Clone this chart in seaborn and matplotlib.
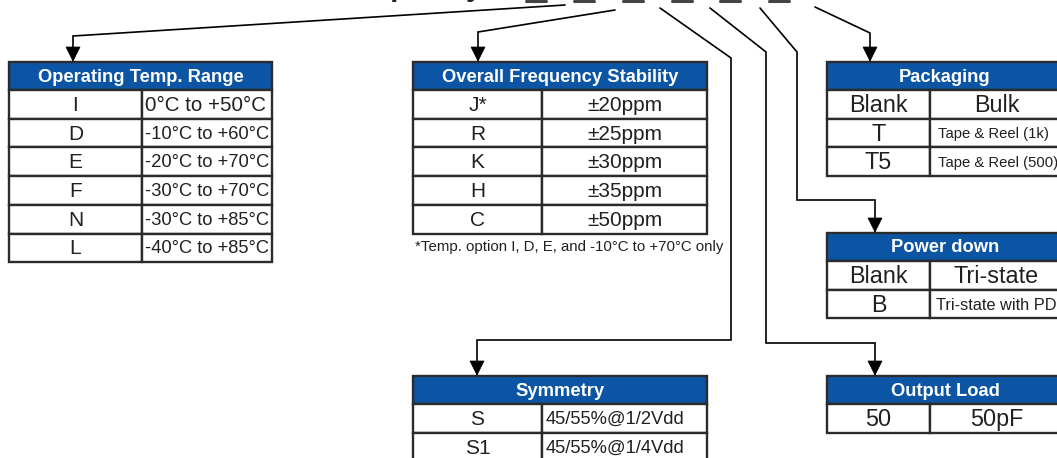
import matplotlib.pyplot as plt
import matplotlib.patches as patches
import seaborn as sns

# table contents
temp_codes = ['I', 'D', 'E', 'F', 'N', 'L']
temp_ranges = ['0°C to +50°C', '-10°C to +60°C', '-20°C to +70°C',
               '-30°C to +70°C', '-30°C to +85°C', '-40°C to +85°C']
stab_codes = ['J*', 'R', 'K', 'H', 'C']
stab_values = ['±20ppm', '±25ppm', '±30ppm', '±35ppm', '±50ppm']
pack_codes = ['Blank', 'T', 'T5']
pack_values = ['Bulk', 'Tape & Reel (1k)', 'Tape & Reel (500)']
pd_codes = ['Blank', 'B']
pd_values = ['Tri-state', 'Tri-state with PD']
sym_codes = ['S', 'S1']
sym_values = ['45/55%@1/2Vdd', '45/55%@1/4Vdd']
load_codes = ['50']
load_values = ['50pF']
footnote = '*Temp. option I, D, E, and -10°C to +70°C only'

sns.set_theme(style='white')
plt.rcParams['font.family'] = ['Liberation Sans', 'DejaVu Sans']

BLUE = '#0c55a5'
EDGE = '#2b2b2b'
TXT = '#231f20'

fig = plt.figure(figsize=(10.57, 4.58), dpi=100)
ax = fig.add_axes([0, 0, 1, 1])
ax.set_xlim(0, 1057)
ax.set_ylim(458, 0)
ax.axis('off')


def table(x0, x1, xdiv, y0, title, codes, values, sizes, align='center', pad=4,
          code_size=15, rh=28.7, hh=28):
    ax.add_patch(patches.Rectangle((x0, y0), x1 - x0, hh, facecolor=BLUE,
                                   edgecolor=EDGE, lw=1.7, zorder=2))
    ax.text((x0 + x1) / 2, y0 + hh / 2 + 1, title, color='white', fontsize=13.2,
            fontweight='bold', ha='center', va='center', zorder=3)
    for i, (c, v) in enumerate(zip(codes, values)):
        yt = y0 + hh + i * rh
        ax.add_patch(patches.Rectangle((x0, yt), xdiv - x0, rh, facecolor='white',
                                       edgecolor=EDGE, lw=1.7, zorder=2))
        ax.add_patch(patches.Rectangle((xdiv, yt), x1 - xdiv, rh, facecolor='white',
                                       edgecolor=EDGE, lw=1.7, zorder=2))
        ax.text((x0 + xdiv) / 2, yt + rh / 2 + 1, c, fontsize=code_size, color=TXT,
                ha='center', va='center', zorder=3)
        a = align[i] if isinstance(align, list) else align
        if a == 'center':
            ax.text((xdiv + x1) / 2, yt + rh / 2 + 1, v, fontsize=sizes[i], color=TXT,
                    ha='center', va='center', zorder=3)
        else:
            ax.text(xdiv + pad, yt + rh / 2 + 1, v, fontsize=sizes[i], color=TXT,
                    ha='left', va='center', zorder=3)


def connector(pts, arrow=True):
    xs = [p[0] for p in pts]
    ys = [p[1] for p in pts]
    ax.plot(xs, ys, color='black', lw=1.2, zorder=1, solid_joinstyle='miter')
    if arrow:
        tx, ty = pts[-1]
        ax.add_patch(patches.Polygon([(tx - 7, ty - 14), (tx + 7, ty - 14), (tx, ty)],
                                     closed=True, facecolor='black', edgecolor='black',
                                     lw=0.5, zorder=1))


# partial part-number header (mostly cut off at the top, as in the source)
ax.text(335, -4, 'Frequency', fontsize=21, fontweight='bold', color=TXT,
        ha='left', va='baseline', clip_on=True)
for cx in [536, 584, 633, 682, 730, 779]:
    ax.plot([cx - 10, cx + 10], [1, 1], color='#444444', lw=2.2)

# connectors
connector([(565, 5), (73, 36), (73, 61)])
connector([(615, 10), (478, 32), (478, 61)])
connector([(660, 8), (731, 58), (731, 340), (477, 340), (477, 375)])
connector([(710, 8), (766, 52), (766, 343), (875, 343), (875, 375)])
connector([(760, 8), (797, 52), (797, 200), (875, 200), (875, 232)])
connector([(815, 7), (870, 33), (870, 61)])

# tables
table(9, 272, 142, 62, 'Operating Temp. Range', temp_codes, temp_ranges,
      [14.8, 13.2, 13.2, 13.2, 13.2, 13.2], align='left', pad=3)
table(413, 707, 542, 62, 'Overall Frequency Stability', stab_codes, stab_values,
      [15] * 5)
ax.text(415, 247, footnote, fontsize=10.8, color=TXT, ha='left', va='center')
table(827, 1063, 930, 62, 'Packaging', pack_codes, pack_values,
      [16.8, 10.7, 10.7], align=['center', 'left', 'left'], pad=8, code_size=16.8)
table(827, 1063, 930, 233, 'Power down', pd_codes, pd_values,
      [16.8, 11.8], align=['center', 'left'], pad=6, code_size=16.8)
table(413, 707, 542, 376, 'Symmetry', sym_codes, sym_values,
      [13.2, 13.2], align='left', pad=4)
table(827, 1063, 930, 376, 'Output Load', load_codes, load_values, [16.8],
      code_size=16.8)

fig.savefig('out.png', dpi=100)
